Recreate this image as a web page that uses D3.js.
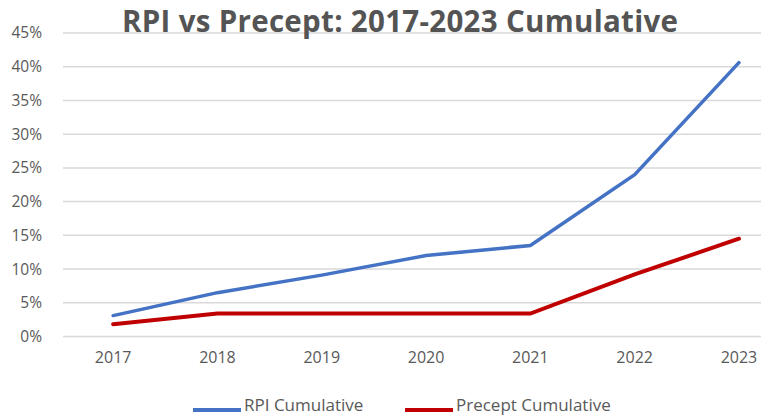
<!DOCTYPE html>
<html>
<head>
<meta charset="utf-8">
<script src="https://cdn.jsdelivr.net/npm/d3@7"></script>
<style>
  body { margin: 0; background: #fff; }
  svg { display: block; }
</style>
</head>
<body>
<div id="chart"></div>
<script>
var years = ["2017", "2018", "2019", "2020", "2021", "2022", "2023"];
var rpiCumulative = [3.1, 6.5, 9.1, 12.0, 13.5, 24.0, 40.6];
var preceptCumulative = [1.8, 3.4, 3.4, 3.4, 3.4, 9.2, 14.5];
var yTicks = [0, 5, 10, 15, 20, 25, 30, 35, 40, 45];
var seriesNames = ["RPI Cumulative", "Precept Cumulative"];

function init() {
    var w = 761;
    var h = 416;
    var left = 61;
    var bandW = 104.3;

    var svg = d3.select("#chart")
        .append("svg")
        .attr("width", w)
        .attr("height", h);

    // Scales (plot is cropped on the right, so the range runs past the edge)
    var xScale = d3.scaleBand()
        .domain(years)
        .range([left, left + bandW * years.length]);

    var yScale = d3.scaleLinear()
        .domain([0, 45])
        .range([336.5, 33]);

    // Gridlines
    svg.append("g")
        .selectAll("line")
        .data(yTicks)
        .enter()
        .append("line")
        .attr("x1", 63)
        .attr("x2", w)
        .attr("y1", function(d) { return yScale(d); })
        .attr("y2", function(d) { return yScale(d); })
        .attr("stroke", "#d9d9d9")
        .attr("stroke-width", 1.5);

    // Y axis labels
    var yAxis = d3.axisLeft(yScale)
        .tickValues(yTicks)
        .tickFormat(function(d) { return d + "%"; })
        .tickSize(0)
        .tickPadding(0);
    var gy = svg.append("g")
        .attr("transform", "translate(42, 0)")
        .call(yAxis);
    gy.select(".domain").remove();
    gy.selectAll("text")
        .attr("fill", "#595959")
        .style("font-family", "'Open Sans', sans-serif")
        .style("font-size", "15.5px");

    // X axis labels
    var xAxis = d3.axisBottom(xScale).tickSize(0).tickPadding(0);
    var gx = svg.append("g")
        .attr("transform", "translate(0, 352)")
        .call(xAxis);
    gx.select(".domain").remove();
    gx.selectAll("text")
        .attr("fill", "#595959")
        .style("font-family", "'Open Sans', sans-serif")
        .style("font-size", "16px");

    // Lines
    var line = d3.line()
        .x(function(d, i) { return xScale(years[i]) + xScale.bandwidth() / 2; })
        .y(function(d) { return yScale(d); });

    svg.append("path")
        .datum(preceptCumulative)
        .attr("d", line)
        .attr("fill", "none")
        .attr("stroke", "#c00000")
        .attr("stroke-width", 4)
        .attr("stroke-linecap", "round");

    svg.append("path")
        .datum(rpiCumulative)
        .attr("d", line)
        .attr("fill", "none")
        .attr("stroke", "#4472c4")
        .attr("stroke-width", 3.5)
        .attr("stroke-linecap", "round");

    // Legend
    var legendX = [193, 405];
    var colours = ["#4472c4", "#c00000"];
    var legend = svg.append("g")
        .selectAll("g")
        .data(seriesNames)
        .enter()
        .append("g")
        .attr("transform", function(d, i) { return "translate(" + legendX[i] + ", 410)"; });
    legend.append("line")
        .attr("x1", 0)
        .attr("x2", 48)
        .attr("stroke", function(d, i) { return colours[i]; })
        .attr("stroke-width", 4);
    legend.append("text")
        .attr("x", 51)
        .attr("y", 1)
        .attr("fill", "#595959")
        .style("font-family", "'Open Sans', sans-serif")
        .style("font-size", "17px")
        .text(function(d) { return d; });

    // Title
    svg.append("text")
        .attr("x", 400)
        .attr("y", 32)
        .attr("text-anchor", "middle")
        .attr("fill", "#545454")
        .attr("textLength", 556)
        .attr("lengthAdjust", "spacing")
        .style("font-family", "'Open Sans', sans-serif")
        .style("font-weight", "bold")
        .style("font-size", "29.5px")
        .text("RPI vs Precept: 2017-2023 Cumulative");
}

window.onload = init;
</script>
</body>
</html>
